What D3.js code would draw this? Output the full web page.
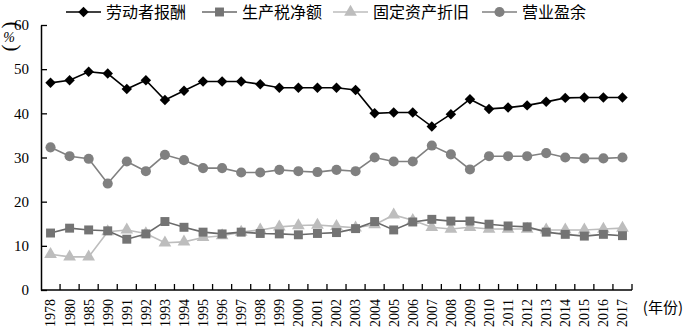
<!DOCTYPE html>
<html><head><meta charset="utf-8">
<script src="https://cdn.jsdelivr.net/npm/d3@7"></script>
<style>body{margin:0;background:#fff;}svg{display:block;}</style>
</head><body>
<svg id="c" width="684" height="332"></svg>
<script>
const years = ["1978","1980","1985","1990","1991","1992","1993","1994","1995","1996","1997","1998","1999","2000","2001","2002","2003","2004","2005","2006","2007","2008","2009","2010","2011","2012","2013","2014","2015","2016","2017"];
const labor = [46.9,47.5,49.4,49.0,45.5,47.5,43.0,45.1,47.2,47.2,47.2,46.6,45.8,45.8,45.8,45.8,45.3,40.0,40.2,40.2,37.0,39.8,43.2,41.0,41.3,41.8,42.6,43.5,43.6,43.6,43.6];
const tax = [12.9,14.0,13.6,13.4,11.5,12.7,15.5,14.2,13.1,12.7,13.1,12.8,12.7,12.5,12.8,13.0,13.9,15.5,13.6,15.4,16.0,15.6,15.6,14.9,14.5,14.3,13.1,12.6,12.2,12.6,12.3];
const depreciation = [8.1,7.5,7.5,13.2,13.6,12.8,10.7,10.9,11.9,12.3,13.1,13.6,14.3,14.6,14.7,14.4,14.1,14.8,17.0,15.8,14.2,13.8,14.2,13.8,13.8,13.8,13.6,13.6,13.6,13.8,14.0];
const surplus = [32.3,30.3,29.7,24.1,29.1,26.9,30.6,29.4,27.6,27.6,26.6,26.6,27.2,26.9,26.7,27.2,26.9,30.0,29.1,29.1,32.7,30.7,27.3,30.3,30.3,30.3,31.0,30.0,29.8,29.8,30.0];
const seriesNames = ["劳动者报酬","生产税净额","固定资产折旧","营业盈余"];
const yTicks = [0,10,20,30,40,50,60];

const svg = d3.select("#c");
const serif = "'Liberation Serif','DejaVu Serif',serif";
const cjk = "'Noto Sans CJK SC',sans-serif";
const x = d3.scaleBand().domain(years).range([41,632]);
const y = d3.scaleLinear().domain([0,60]).range([290,25]);
const cx = d => x(d) + x.bandwidth()/2;

// axes
const yAxis = svg.append("g").attr("transform","translate(41,0)")
  .call(d3.axisLeft(y).tickValues(yTicks).tickSizeInner(-6).tickSizeOuter(0).tickPadding(12).tickFormat(d3.format("d")));
yAxis.select(".domain").attr("stroke","#000").attr("stroke-width",1.5);
yAxis.selectAll(".tick line").attr("stroke","#000").attr("stroke-width",1.3);
yAxis.selectAll("text").attr("font-family",serif).attr("font-size",15).attr("fill","#000");

const xAxis = svg.append("g").attr("transform","translate(0,290)")
  .call(d3.axisBottom(x).tickSize(0).tickPadding(0));
xAxis.select(".domain").attr("d","M41,0H632").attr("stroke","#000").attr("stroke-width",1.5);
xAxis.selectAll(".tick text").attr("font-family",serif).attr("font-size",14).attr("fill","#000")
  .attr("transform","rotate(-90)").attr("text-anchor","end").attr("x",-9).attr("y",0).attr("dy","0.35em");
// boundary ticks (inward)
svg.append("g").selectAll("line").data(years.slice(1).map(d=>x(d)).concat([632])).join("line")
  .attr("x1",d=>d).attr("x2",d=>d).attr("y1",290).attr("y2",284).attr("stroke","#000").attr("stroke-width",1.3);

svg.append("text").attr("x",683).attr("y",313).attr("text-anchor","end")
  .attr("font-family",cjk).attr("font-size",15).text("(年份)");

// vertical (%)
svg.append("text").attr("transform","translate(12,25) rotate(90)").attr("text-anchor","middle").attr("dy","0.3em")
  .attr("font-family",serif).attr("font-size",21).text("(");
svg.append("text").attr("x",9).attr("y",42).attr("text-anchor","middle")
  .attr("font-family",serif).attr("font-style","italic").attr("font-size",14).text("%");
svg.append("text").attr("transform","translate(12,48) rotate(90)").attr("text-anchor","middle").attr("dy","0.3em")
  .attr("font-family",serif).attr("font-size",21).text(")");

const series = [
  {name:seriesNames[0], vals:labor, line:"#000", fill:"#000", sym:d3.symbolDiamond2, size:70},
  {name:seriesNames[1], vals:tax, line:"#6a6a6a", fill:"#747474", sym:d3.symbolSquare, size:80},
  {name:seriesNames[2], vals:depreciation, line:"#bdbdbd", fill:"#bdbdbd", sym:d3.symbolTriangle, size:70},
  {name:seriesNames[3], vals:surplus, line:"#808080", fill:"#808080", sym:d3.symbolCircle, size:80}
];
const drawOrder = [3,2,1,0];
drawOrder.forEach(i => {
  const s = series[i];
  const line = d3.line().x((v,j)=>cx(years[j])).y(v=>y(v));
  svg.append("path").attr("d",line(s.vals)).attr("fill","none").attr("stroke",s.line).attr("stroke-width",1.6);
  svg.append("g").selectAll("path").data(s.vals).join("path")
    .attr("d",d3.symbol().type(s.sym).size(s.size))
    .attr("transform",(v,j)=>`translate(${cx(years[j])},${y(v)})`)
    .attr("fill",s.fill);
});

// legend
const legX = [66,202,333,482];
const leg = svg.append("g");
series.forEach((s,i)=>{
  const g = leg.append("g").attr("transform",`translate(${legX[i]},12)`);
  g.append("line").attr("x1",0).attr("x2",35).attr("stroke",s.line).attr("stroke-width",1.6);
  g.append("path").attr("d",d3.symbol().type(s.sym).size(s.size)).attr("transform","translate(17.5,0)").attr("fill",s.fill);
  g.append("text").attr("x",40).attr("dy","0.36em").attr("font-family",cjk).attr("font-size",16).attr("fill","#000").text(s.name);
});
</script>
</body></html>
